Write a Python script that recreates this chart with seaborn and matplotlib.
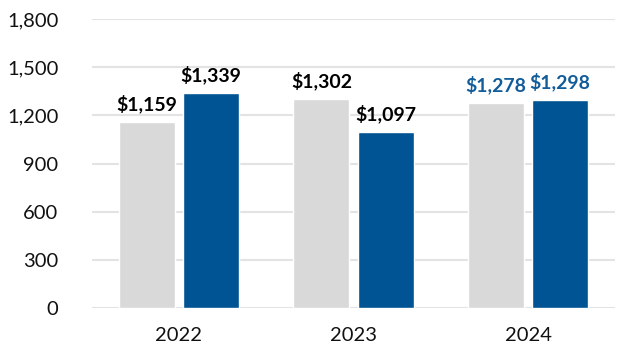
import pandas as pd
import seaborn as sns
import matplotlib.pyplot as plt

# chart values
years = ["2022", "2023", "2024"]
series_a = [1159, 1302, 1278]
series_b = [1339, 1097, 1298]
yticks = [0, 300, 600, 900, 1200, 1500, 1800]

grey = "#D9D9D9"
blue = "#005494"
label_colors = {"2022": "black", "2023": "black", "2024": "#115C99"}

df = pd.DataFrame({
    "Year": years * 2,
    "Series": ["A"] * len(years) + ["B"] * len(years),
    "Value": series_a + series_b,
})

sns.set_style("white")
plt.rcParams["font.family"] = ["Lato", "DejaVu Sans"]

fig = plt.figure(figsize=(6.24, 3.52), dpi=100)
ax = fig.add_axes([0.147, 0.125, 0.839, 0.821])

sns.barplot(data=df, x="Year", y="Value", hue="Series",
            palette=[grey, blue], width=0.736, gap=0.125,
            legend=False, ax=ax, saturation=1)

for container in ax.containers:
    for bar, yr in zip(container, years):
        h = bar.get_height()
        ax.annotate(f"${h:,.0f}", (bar.get_x() + bar.get_width() / 2, h),
                    xytext=(0, 6), textcoords="offset points",
                    ha="center", va="bottom", fontsize=14, fontweight="bold",
                    color=label_colors[yr])

ax.set_xlim(-0.5, 2.5)
ax.set_ylim(0, 1800)
ax.set_yticks(yticks)
ax.set_yticklabels([f"{v:,}" for v in yticks])
ax.yaxis.grid(True, color="#E3E3E3", linewidth=1.5)
ax.set_axisbelow(True)
ax.tick_params(axis="y", length=0, pad=24, labelsize=14.5, labelcolor="#111111")
ax.tick_params(axis="x", length=0, pad=14, labelsize=14.5, labelcolor="#111111")
ax.set_xlabel("")
ax.set_ylabel("")
for side in ["top", "right", "left", "bottom"]:
    ax.spines[side].set_visible(False)

fig.savefig("out.png", dpi=100)
